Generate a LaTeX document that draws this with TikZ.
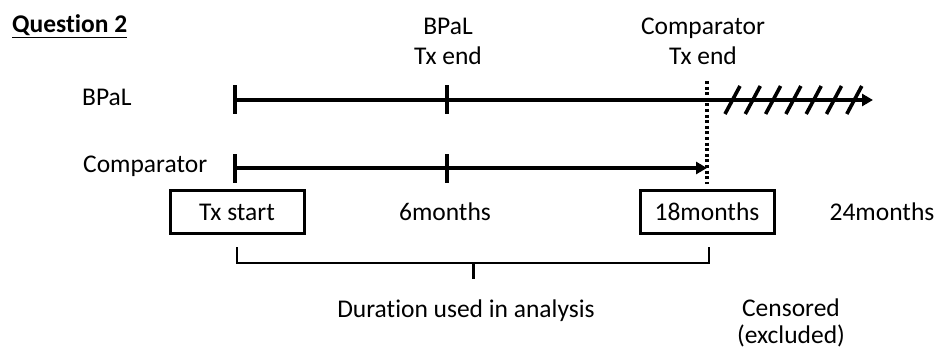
\documentclass[tikz,border=0pt]{standalone}
\usepackage{fontspec}
\setmainfont{Carlito}[Ligatures=NoCommon]
\usetikzlibrary{arrows.meta}
\begin{document}
\begin{tikzpicture}[x=1pt,y=-1pt,
  lbl/.style={inner sep=0pt,anchor=base,font=\fontsize{25.5}{30}\selectfont},
  timeline/.style={line width=4pt},
  tickmark/.style={line width=3.4pt},
  hatch/.style={line width=3.6pt},
  boxed/.style={draw,line width=3pt,minimum width=134pt,minimum height=43pt,inner sep=0pt,font=\fontsize{25.5}{30}\selectfont},
  bracket/.style={line width=2.4pt},
  tip/.style={-{Triangle[length=11pt,width=12pt]}}]
\useasboundingbox (0,0) rectangle (938,350);

% title
\node[lbl,anchor=base west] (title) at (12,33) {\textbf{\underline{Question 2}}};

% row labels
\node[lbl,anchor=base west] (bpallbl) at (82,106) {BPaL};
\node[lbl,anchor=base west] (complbl) at (83,173) {Comparator};

% top labels
\node[lbl,anchor=base] (bpalend) at (448,35) {BPaL};
\node[lbl,anchor=base] (bpalend2) at (448,65) {Tx end};
\node[lbl,anchor=base] (compend) at (703,35) {Comparator};
\node[lbl,anchor=base] (compend2) at (703,65) {Tx end};

% coordinates
\coordinate (b0) at (235,100);
\coordinate (b6) at (447,100);
\coordinate (bend) at (873,100);
\coordinate (c0) at (235,168);
\coordinate (c6) at (447,168);
\coordinate (cend) at (707,168);
\coordinate (dtop) at (707,81);
\coordinate (dbot) at (707,184);

% BPaL timeline
\draw[timeline,tip] (b0) -- (bend);
\draw[tickmark] ([yshift=-14]b0) -- ([yshift=15]b0);
\draw[tickmark] ([yshift=-14]b6) -- ([yshift=15]b6);
\foreach \i in {0,...,6}{
  \draw[hatch] (725+\i*20.3,114) -- (740+\i*20.3,86);
}

% Comparator timeline
\draw[timeline,tip] (c0) -- (cend);
\draw[tickmark] ([yshift=-15]c0) -- ([yshift=14]c0);
\draw[tickmark] ([yshift=-15]c6) -- ([yshift=14]c6);

% dotted line
\draw[line width=3.2pt,dash pattern=on 3pt off 2.6pt] (dtop) -- (dbot);

% boxes and month labels
\node[boxed] (start) at (237,212) {Tx start};
\node[boxed] (m18) at (707,212) {18months};
\node[lbl] (m6) at (445,221) {6months};
\node[lbl] (m24) at (882,221) {24months};

% bracket
\coordinate (brl) at (237,247);
\coordinate (brr) at (709,247);
\coordinate (brm) at (473,263);
\coordinate (brmb) at (473,279);
\draw[bracket] (brl) |- (brr |- brm) -- (brr);
\draw[tickmark,line width=3pt] (brm) -- (brmb);

% bottom labels
\node[lbl] (dur) at (466,317) {Duration used in analysis};
\node[lbl] (cens) at (791,316) {Censored};
\node[lbl] (excl) at (791,343) {(excluded)};
\end{tikzpicture}
\end{document}
